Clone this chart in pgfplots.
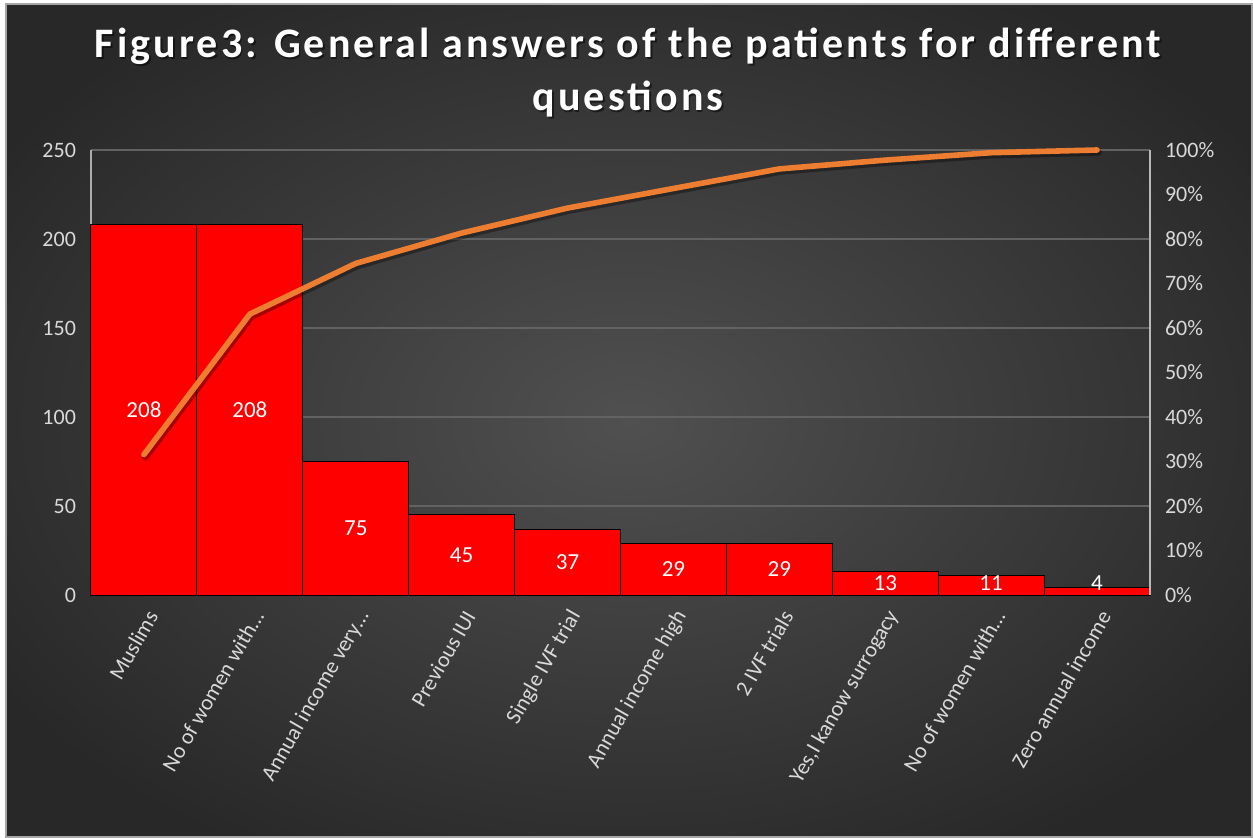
\documentclass[border=0pt]{standalone}
\usepackage{pgfplots}
\pgfplotsset{compat=1.18}
\usepackage{pgfplotstable}
\usepackage{fontspec}
\setmainfont{Carlito}
\newfontfamily\titlefont[LetterSpace=7.5]{Carlito}
\definecolor{barred}{RGB}{255,0,0}
\definecolor{lineor}{RGB}{237,125,49}
\definecolor{ticktxt}{RGB}{217,217,217}
\definecolor{gridc}{RGB}{98,98,98}
\definecolor{bgin}{RGB}{80,80,80}
\definecolor{bgmid}{RGB}{60,60,60}
\definecolor{bgout}{RGB}{40,40,40}
\pgfdeclareradialshading{bgshade}{\pgfpointorigin}{color(0bp)=(bgin); color(15bp)=(bgmid); color(30bp)=(bgout); color(50bp)=(bgout)}

\pgfplotstableread{
x v ly cum
0 208 104 0.31563
1 208 104 0.63126
2 75 37.5 0.74507
3 45 22.5 0.81335
4 37 18.5 0.86950
5 29 14.5 0.91351
6 29 14.5 0.95751
7 13 6.5 0.97724
8 11 6.5 0.99393
9 4 6.5 1.00000
}\datatable

\begin{document}
\begin{tikzpicture}
\useasboundingbox (0pt,0pt) rectangle (626.5pt,418.5pt);
\fill[white] (0pt,0pt) rectangle (626.5pt,418.5pt);
\shade[shading=bgshade] (3pt,0pt) rectangle (626pt,416.5pt);
\draw[gray!70, line width=0.6pt] (3pt,0pt) rectangle (626pt,416.5pt);
% title
\node[text=black, opacity=0.5, font=\titlefont\bfseries\fontsize{21}{24}\selectfont] at (314.8pt,394.6pt) {Figure3: General answers of the patients for different};
\node[text=black, opacity=0.5, font=\titlefont\bfseries\fontsize{21}{24}\selectfont] at (314.8pt,368.1pt) {questions};
\node[text=white, font=\titlefont\bfseries\fontsize{21}{24}\selectfont] at (314pt,395.3pt) {Figure3: General answers of the patients for different};
\node[text=white, font=\titlefont\bfseries\fontsize{21}{24}\selectfont] at (314pt,368.8pt) {questions};

\begin{axis}[
  name=ax1,
  scale only axis, at={(45.5pt,121pt)}, anchor=south west,
  width=529.5pt, height=222.5pt,
  xmin=-0.5, xmax=9.5, ymin=0, ymax=250,
  ytick={0,50,100,150,200,250},
  ymajorgrids, grid style={gridc, line width=0.6pt},
  xtick={0,1,2,3,4,5,6,7,8,9},
  xticklabels={Muslims, {No of women with\ldots}, {Annual income very\ldots}, Previous IUI, Single IVF trial, Annual income high, 2 IVF trials, {Yes,I kanow surrogacy}, {No of women with\ldots}, Zero annual income},
  axis x line*=bottom, axis y line*=left,
  axis line style={-, gray!65, line width=0.6pt},
  major tick length=0pt,
  /pgf/number format/assume math mode=true,
  yticklabel style={font=\fontsize{11}{13}\selectfont, color=ticktxt, xshift=-4pt},
  xticklabel style={font=\fontsize{11}{13}\selectfont, color=ticktxt, rotate=60, anchor=east, yshift=-8pt, xshift=-2pt},
  clip=false,
]
\addplot[ybar, bar width=1, fill=barred, draw=black, line width=0.5pt] table[x=x,y=v]{\datatable};
\addplot[draw=none, nodes near coords, point meta=explicit, nodes near coords align={center},
  every node near coord/.append style={font=\fontsize{11.5}{13}\selectfont, color=white}]
  table[x=x, y=ly, meta=v]{\datatable};
\end{axis}

\begin{axis}[
  scale only axis, at={(ax1.south west)}, anchor=south west,
  width=529.5pt, height=222.5pt,
  xmin=-0.5, xmax=9.5, ymin=0, ymax=1,
  ytick={0,0.1,0.2,0.3,0.4,0.5,0.6,0.7,0.8,0.9,1.0},
  yticklabels={0\%,10\%,20\%,30\%,40\%,50\%,60\%,70\%,80\%,90\%,100\%},
  axis x line=none, axis y line*=right,
  axis line style={-, gray!55, line width=0.6pt},
  major tick length=0pt,
  yticklabel style={font=\fontsize{11}{13}\selectfont, color=ticktxt, xshift=4pt},
  clip=false,
]
\addplot[black, opacity=0.35, line width=3.4pt, line join=round, line cap=round, xshift=0.8pt, yshift=-1.2pt] table[x=x,y=cum]{\datatable};
\addplot[lineor, line width=2.8pt, line join=round, line cap=round] table[x=x,y=cum]{\datatable};
\end{axis}
\end{tikzpicture}
\end{document}
